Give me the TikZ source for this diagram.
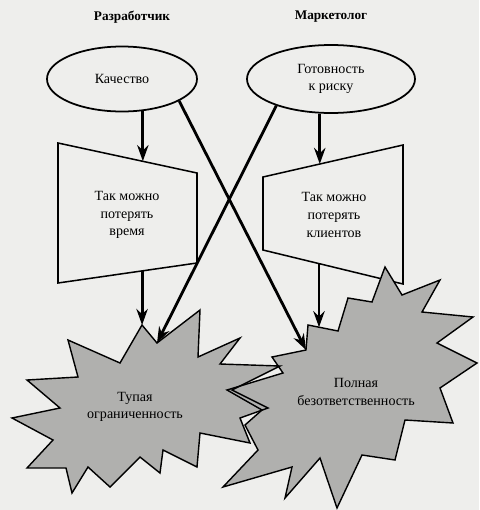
\documentclass[tikz,border=0pt]{standalone}
\usepackage{fontspec}
\setmainfont{Liberation Serif}
\usepackage{tikz}
\usetikzlibrary{shapes.geometric, arrows.meta, calc}
\definecolor{paper}{RGB}{238,238,236}
\definecolor{blotgray}{RGB}{176,176,174}

% outlines of the two blots
\newcommand{\blotleft}{(142,325) coordinate (LStop) -- (157,343) coordinate (LSnotch) -- (200,310) -- (198,357) -- (240,338) -- (220,364) -- (280,366) -- (232,390) -- (268,408) -- (240,418) -- (250,443) -- (200,433) -- (197,467) -- (163,450) -- (160,473) -- (140,457) -- (110,487) -- (88,467) -- (72,493) -- (66,468) -- (27,468) -- (53,440) -- (12,418) -- (60,408) -- (27,380) -- (78,377) -- (68,340) -- (120,363) -- cycle}
\newcommand{\blotright}{(308,325) coordinate (RS1) -- (338,331) coordinate (RS2) -- (348,298) -- (372,302) -- (385,267) -- (402,295) -- (440,280) -- (422,312) -- (473,317) -- (437,343) -- (477,363) -- (440,388) -- (453,423) -- (405,420) -- (395,460) -- (362,455) -- (337,508) -- (320,458) -- (285,498) -- (292,467) -- (223,487) -- (258,450) -- (245,425) -- (262,410) -- (227,390) -- (283,373) -- (272,357) -- (306,350) coordinate (RSnotch) -- cycle}

\begin{document}
\begin{tikzpicture}[x=0.3mm, y=-0.3mm, >={Stealth[length=4.8mm, width=3.4mm]},
    arr/.style={->, line width=2.4pt},
    edge/.style={line width=1.3pt, line join=miter},
    oval/.style={ellipse, draw, line width=1.5pt, inner sep=1pt},
    txt/.style={font=\fontsize{12}{15}\selectfont, align=center}]
    % Page
    \fill[paper] (0,0) rectangle (479,510);
    \useasboundingbox (0,0) rectangle (479,510);

    % Headings
    \node[txt, font=\fontsize{11.3}{14}\selectfont\bfseries] (dev) at (132,17) {Разработчик};
    \node[txt, font=\fontsize{11.3}{14}\selectfont\bfseries] (mkt) at (331,17) {Маркетолог};

    % Ellipses
    \node[oval, txt, minimum width=45mm, minimum height=19.5mm] (qual) at (122,79) {Качество};
    \node[oval, txt, minimum width=50.4mm, minimum height=20.4mm] (ready) at (331,79) {Готовность\\к риску};

    % Left box
    \coordinate (L0) at (58,143);
    \coordinate (L1) at (197,173);
    \coordinate (L2) at (197,263);
    \coordinate (L3) at (58,283);
    \draw[edge] (L0) -- (L1) -- (L2) -- (L3) -- cycle;
    \node[txt] (losstime) at (127,215) {Так можно\\потерять\\время};

    % Right box
    \coordinate (R0) at (263,177);
    \coordinate (R1) at (403,145);
    \coordinate (R2) at (403,284);
    \coordinate (R3) at (263,250);
    \draw[edge] (R0) -- (R1) -- (R2) -- (R3) -- cycle;
    \node[txt] (lossclients) at (334,215) {Так можно\\потерять\\клиентов};

    % Blots
    \fill[blotgray] \blotleft;
    \fill[blotgray] \blotright;
    \draw[edge, line width=1.2pt] \blotleft;
    \draw[edge, line width=1.2pt] \blotright;
    \node[txt] (dull) at (135,407) {Тупая\\ограниченность};
    \node[txt] (irresp) at (356,392) {Полная\\безответственность};

    % Arrows into the boxes
    \coordinate (La) at ($(L0)!0.605!(L1)$);
    \coordinate (Ra) at ($(R0)!0.407!(R1)$);
    \draw[arr] (qual.-57) -- (qual.-57 |- La);
    \draw[arr] (ready.-108) -- (ready.-108 |- Ra);

    % Arrows into the blots
    \coordinate (Lb) at ($(L3)!0.605!(L2)$);
    \coordinate (Rb) at ($(R3)!0.4!(R2)$);
    \coordinate (RStop) at ($(RS1)!0.37!(RS2)$);
    \draw[arr] (Lb) -- (Lb |- LStop);
    \draw[arr] (Rb) -- (Rb |- RStop);

    % Crossing arrows
    \draw[arr] (qual.-21) -- (RSnotch);
    \draw[arr] (ready.206) -- (LSnotch);
\end{tikzpicture}
\end{document}
